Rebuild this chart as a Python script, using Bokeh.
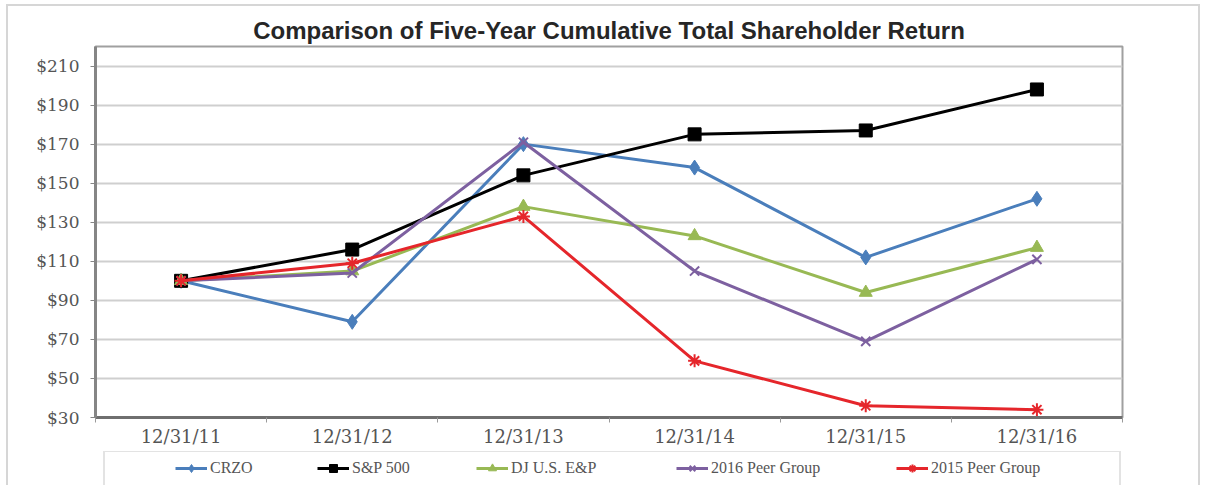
from bokeh.plotting import figure
from bokeh.layouts import column
from bokeh.models import FixedTicker, NumeralTickFormatter, Legend, LegendItem, Range1d
from bokeh.embed import file_html
from bokeh.resources import INLINE

# ---- data ----
dates = ["12/31/11", "12/31/12", "12/31/13", "12/31/14", "12/31/15", "12/31/16"]
crzo = [100, 79, 170, 158, 112, 142]
sp500 = [100, 116, 154, 175, 177, 198]
dj_ep = [100, 105, 138, 123, 94, 117]
peer_2016 = [100, 104, 171, 105, 69, 111]
peer_2015 = [100, 109, 133, 59, 36, 34]
series_names = ["CRZO", "S&P 500", "DJ U.S. E&P", "2016 Peer Group", "2015 Peer Group"]
y_ticks = [30, 50, 70, 90, 110, 130, 150, 170, 190, 210]
title_text = "Comparison of Five-Year Cumulative Total Shareholder Return"

# ---- styles ----
colors = ["#4A7EBB", "#000000", "#98B954", "#7D60A0", "#E5262B"]
markers = ["diamond", "square", "triangle", "x", "asterisk"]
msizes = [15, 13, 13, 13, 13]
legend_msizes = [9, 8, 8, 8, 8]
legend_x = [80, 222, 381, 581, 801]   # legend entry offsets from the plot frame's left edge (px)
all_series = [crzo, sp500, dj_ep, peer_2016, peer_2015]

xpos = [i + 0.5 for i in range(len(dates))]

W = 1190
p = figure(width=W, height=445,
           x_range=Range1d(0, len(dates)), y_range=Range1d(30, 220),
           output_backend="svg", toolbar_location=None,
           min_border_left=87, min_border_right=76,
           min_border_top=40, min_border_bottom=34,
           background_fill_color="white", border_fill_color="white")

p.title.text = title_text
p.title.align = "center"
p.title.text_font = "Liberation Sans"
p.title.text_font_style = "bold"
p.title.text_font_size = "24px"
p.title.text_color = "#262626"
p.title.standoff = 5

p.outline_line_color = "#a0a0a0"
p.outline_line_width = 2

# y axis
p.yaxis.ticker = FixedTicker(ticks=y_ticks)
p.yaxis.formatter = NumeralTickFormatter(format="$0")
p.yaxis.axis_line_color = "#858585"
p.yaxis.axis_line_width = 3
p.yaxis.major_tick_line_color = "#858585"
p.yaxis.major_tick_out = 5
p.yaxis.major_tick_in = 0
p.yaxis.minor_tick_line_color = None
p.yaxis.major_label_text_font = "DejaVu Serif"
p.yaxis.major_label_text_font_size = "17px"
p.yaxis.major_label_text_color = "#555555"
p.yaxis.major_label_standoff = 11

# x axis
p.xaxis.ticker = FixedTicker(ticks=xpos, minor_ticks=list(range(len(dates) + 1)))
p.xaxis.major_label_overrides = {xv: d for xv, d in zip(xpos, dates)}
p.xaxis.axis_line_color = "#6f6f6f"
p.xaxis.axis_line_width = 3
p.xaxis.major_tick_line_color = None
p.xaxis.major_tick_out = 0
p.xaxis.major_tick_in = 0
p.xaxis.minor_tick_line_color = "#9a9a9a"
p.xaxis.minor_tick_out = 5
p.xaxis.minor_tick_in = 0
p.xaxis.major_label_text_font = "DejaVu Serif"
p.xaxis.major_label_text_font_size = "18px"
p.xaxis.major_label_text_color = "#555555"
p.xaxis.major_label_standoff = 3

p.xgrid.grid_line_color = None
p.ygrid.ticker = FixedTicker(ticks=y_ticks)
p.ygrid.grid_line_color = "#cfcfcf"
p.ygrid.grid_line_width = 2

for ys, c, m, s in zip(all_series, colors, markers, msizes):
    p.line(xpos, ys, line_color=c, line_width=3)
    if m in ("x", "asterisk"):
        p.scatter(xpos, ys, marker=m, size=s, line_color=c, line_width=2)
    else:
        p.scatter(xpos, ys, marker=m, size=s, fill_color=c, line_color=c)

# ---- legend strip (separate figure; its frame aligns with the plot frame).
# Its renderers carry the same series, but its y-range lies far outside the
# data, so only their legend swatches show.
LH = 34
q = figure(width=W, height=LH, x_range=Range1d(0, len(dates)), y_range=Range1d(-2, -1),
           x_axis_type=None, y_axis_type=None, output_backend="svg",
           toolbar_location=None, min_border=0, outline_line_color=None,
           background_fill_color="white", border_fill_color="white")

# bordered box (drawn first); location = bottom-left corner in frame px
dummy = q.line(xpos, crzo, line_alpha=0)
box_h = 42
box = Legend(items=[LegendItem(label=" ", renderers=[dummy])],
             location=(8, LH - 3 - box_h), padding=6, margin=0,
             glyph_width=1, glyph_height=box_h - 12, label_standoff=0,
             label_width=1001, border_line_color="#c8c8c8",
             border_line_width=2, background_fill_color="white",
             background_fill_alpha=1.0)
q.add_layout(box, "center")

for name, ys, c, m, s, lx in zip(series_names, all_series, colors, markers, legend_msizes, legend_x):
    lr = q.line(xpos, ys, line_color=c, line_width=3)
    if m in ("x", "asterisk"):
        sr = q.scatter(xpos, ys, marker=m, size=s, line_color=c, line_width=2)
    else:
        sr = q.scatter(xpos, ys, marker=m, size=s, fill_color=c, line_color=c)
    lg = Legend(items=[LegendItem(label=name, renderers=[lr, sr])],
                location=(lx, LH - 27), orientation="horizontal",
                padding=0, margin=0, glyph_width=32, glyph_height=20,
                label_standoff=3, border_line_alpha=0, background_fill_alpha=0,
                label_text_font="Liberation Serif", label_text_font_size="16px",
                label_text_color="#555555")
    q.add_layout(lg, "center")

root = column(p, q, spacing=0)
root.styles = {"margin-left": "6px", "margin-top": "4px",
               "border-top": "2px solid #d6d6d6",
               "border-left": "2px solid #d6d6d6",
               "border-right": "2px solid #d6d6d6"}

open("out.html", "w").write(file_html(root, INLINE))
